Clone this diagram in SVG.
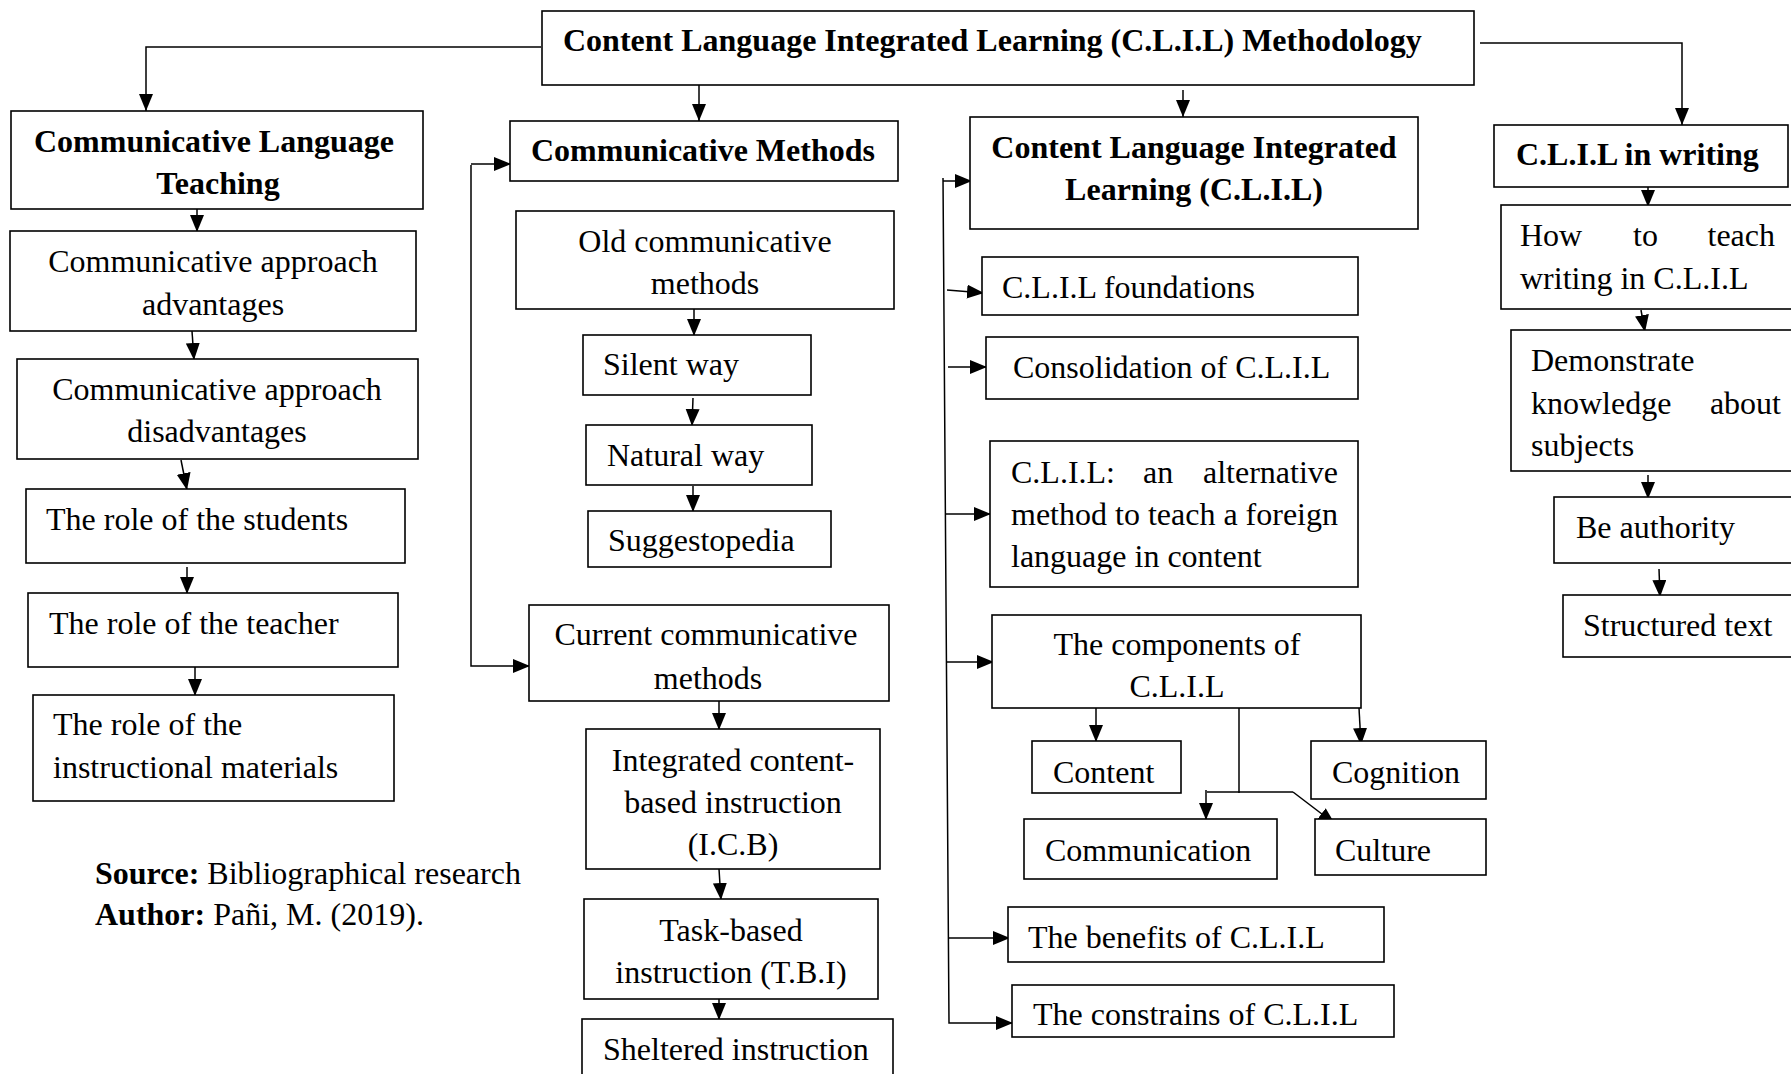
<svg xmlns="http://www.w3.org/2000/svg" width="1791" height="1074" viewBox="0 0 1791 1074">
<style>
.box{fill:#fff;stroke:#000;stroke-width:1.6}
.t{font-family:"Liberation Serif","Times New Roman",serif;font-size:32px;fill:#000}
.b{font-weight:bold}
.c{text-anchor:middle}
.e{text-anchor:end}
.ln{fill:none;stroke:#000;stroke-width:1.5}
.ar{marker-end:url(#ah)}
</style>
<defs>
<marker id="ah" markerUnits="userSpaceOnUse" markerWidth="18" markerHeight="15" refX="17" refY="7" orient="auto">
<path d="M0,0 L17,7 L0,14 z" fill="#000"/>
</marker>
</defs>
<rect width="1791" height="1074" fill="#fff"/>

<g id="connectors">
<polyline class="ln ar" points="541,47 146,47 146,111"/>
<line class="ln ar" x1="699" y1="85" x2="699" y2="121"/>
<line class="ln ar" x1="1183" y1="90" x2="1183" y2="117"/>
<polyline class="ln ar" points="1480,43 1682,43 1682,125"/>
<!-- column 1 -->
<line class="ln ar" x1="197" y1="209" x2="197" y2="232"/>
<line class="ln ar" x1="192" y1="331" x2="194" y2="360"/>
<line class="ln ar" x1="181" y1="460" x2="187" y2="490"/>
<line class="ln ar" x1="187" y1="567" x2="187" y2="594"/>
<line class="ln ar" x1="195" y1="667" x2="195" y2="696"/>
<!-- column 2 -->
<line class="ln ar" x1="471" y1="164" x2="511" y2="164"/>
<polyline class="ln ar" points="471,165 471,666 530,666"/>
<line class="ln ar" x1="694" y1="309" x2="694" y2="336"/>
<line class="ln ar" x1="693" y1="398" x2="692" y2="426"/>
<line class="ln ar" x1="693" y1="486" x2="693" y2="512"/>
<line class="ln ar" x1="719" y1="701" x2="719" y2="730"/>
<line class="ln ar" x1="719" y1="869" x2="721" y2="900"/>
<line class="ln ar" x1="719" y1="999" x2="719" y2="1020"/>
<!-- column 3 -->
<polyline class="ln ar" points="943,178 949,1023 1013,1023"/>
<line class="ln ar" x1="943" y1="181" x2="972" y2="181"/>
<line class="ln ar" x1="947" y1="290" x2="984" y2="293"/>
<line class="ln ar" x1="948" y1="367" x2="987" y2="367"/>
<line class="ln ar" x1="946" y1="514" x2="991" y2="514"/>
<line class="ln ar" x1="947" y1="662" x2="994" y2="662"/>
<line class="ln ar" x1="948" y1="938" x2="1010" y2="938"/>
<line class="ln ar" x1="1096" y1="708" x2="1096" y2="742"/>
<line class="ln ar" x1="1359" y1="708" x2="1361" y2="745"/>
<polyline class="ln" points="1239,708 1239,793"/>
<polyline class="ln" points="1207,792 1293,792"/>
<line class="ln ar" x1="1206" y1="790" x2="1206" y2="820"/>
<line class="ln ar" x1="1293" y1="792" x2="1335" y2="824"/>
<!-- column 4 -->
<line class="ln ar" x1="1648" y1="187" x2="1648" y2="207"/>
<line class="ln ar" x1="1641" y1="310" x2="1645" y2="332"/>
<line class="ln ar" x1="1648" y1="475" x2="1648" y2="499"/>
<line class="ln ar" x1="1659" y1="569" x2="1660" y2="597"/>
</g>

<g id="n-root"><rect class="box" x="542" y="11" width="932" height="74"/>
<text class="t b" x="563" y="51">Content Language Integrated Learning (C.L.I.L) Methodology</text></g>

<g id="n-clt"><rect class="box" x="11" y="111" width="412" height="98"/>
<text class="t b c" x="214" y="152">Communicative Language</text>
<text class="t b c" x="218" y="194">Teaching</text></g>
<g id="n-adv"><rect class="box" x="10" y="231" width="406" height="100"/>
<text class="t c" x="213" y="272">Communicative approach</text>
<text class="t c" x="213" y="315">advantages</text></g>
<g id="n-disadv"><rect class="box" x="17" y="359" width="401" height="100"/>
<text class="t c" x="217" y="400">Communicative approach</text>
<text class="t c" x="217" y="442">disadvantages</text></g>
<g id="n-students"><rect class="box" x="26" y="489" width="379" height="74"/>
<text class="t" x="46" y="530">The role of the students</text></g>
<g id="n-teacher"><rect class="box" x="28" y="593" width="370" height="74"/>
<text class="t" x="49" y="634">The role of the teacher</text></g>
<g id="n-materials"><rect class="box" x="33" y="695" width="361" height="106"/>
<text class="t" x="53" y="735">The role of the</text>
<text class="t" x="53" y="778">instructional materials</text></g>

<g id="source">
<text class="t" x="95" y="884"><tspan class="b">Source:</tspan> Bibliographical research</text>
<text class="t" x="95" y="925"><tspan class="b">Author:</tspan> Pañi, M. (2019).</text>
</g>

<g id="n-cm"><rect class="box" x="510" y="121" width="388" height="60"/>
<text class="t b" x="531" y="161">Communicative Methods</text></g>
<g id="n-old"><rect class="box" x="516" y="211" width="378" height="98"/>
<text class="t c" x="705" y="252">Old communicative</text>
<text class="t c" x="705" y="294">methods</text></g>
<g id="n-silent"><rect class="box" x="583" y="335" width="228" height="60"/>
<text class="t" x="603" y="375">Silent way</text></g>
<g id="n-natural"><rect class="box" x="586" y="425" width="226" height="60"/>
<text class="t" x="607" y="466">Natural way</text></g>
<g id="n-sugg"><rect class="box" x="588" y="511" width="243" height="56"/>
<text class="t" x="608" y="551">Suggestopedia</text></g>
<g id="n-current"><rect class="box" x="529" y="605" width="360" height="96"/>
<text class="t c" x="706" y="645">Current communicative</text>
<text class="t c" x="708" y="689">methods</text></g>
<g id="n-icb"><rect class="box" x="586" y="729" width="294" height="140"/>
<text class="t c" x="733" y="771">Integrated content-</text>
<text class="t c" x="733" y="813">based instruction</text>
<text class="t c" x="733" y="855">(I.C.B)</text></g>
<g id="n-tbi"><rect class="box" x="584" y="899" width="294" height="100"/>
<text class="t c" x="731" y="941">Task-based</text>
<text class="t c" x="731" y="983">instruction (T.B.I)</text></g>
<g id="n-sheltered"><rect class="box" x="582" y="1019" width="311" height="70"/>
<text class="t" x="603" y="1060">Sheltered instruction</text></g>

<g id="n-clil"><rect class="box" x="970" y="117" width="448" height="112"/>
<text class="t b c" x="1194" y="158">Content Language Integrated</text>
<text class="t b c" x="1194" y="200">Learning (C.L.I.L)</text></g>
<g id="n-found"><rect class="box" x="982" y="257" width="376" height="58"/>
<text class="t" x="1002" y="298">C.L.I.L foundations</text></g>
<g id="n-consol"><rect class="box" x="986" y="337" width="372" height="62"/>
<text class="t" x="1013" y="378">Consolidation of C.L.I.L</text></g>
<g id="n-alt"><rect class="box" x="990" y="441" width="368" height="146"/>
<text class="t" x="1011" y="483">C.L.I.L:</text>
<text class="t" x="1143" y="483">an</text>
<text class="t e" x="1338" y="483">alternative</text>
<text class="t" x="1011" y="525">method to teach a foreign</text>
<text class="t" x="1011" y="567">language in content</text></g>
<g id="n-comp"><rect class="box" x="992" y="615" width="369" height="93"/>
<text class="t c" x="1177" y="655">The components of</text>
<text class="t c" x="1177" y="697">C.L.I.L</text></g>
<g id="n-content"><rect class="box" x="1032" y="741" width="149" height="52"/>
<text class="t" x="1053" y="783">Content</text></g>
<g id="n-cognition"><rect class="box" x="1311" y="741" width="175" height="58"/>
<text class="t" x="1332" y="783">Cognition</text></g>
<g id="n-communication"><rect class="box" x="1024" y="819" width="253" height="60"/>
<text class="t" x="1045" y="861">Communication</text></g>
<g id="n-culture"><rect class="box" x="1315" y="819" width="171" height="56"/>
<text class="t" x="1335" y="861">Culture</text></g>
<g id="n-benefits"><rect class="box" x="1008" y="907" width="376" height="55"/>
<text class="t" x="1028" y="948">The benefits of C.L.I.L</text></g>
<g id="n-constrains"><rect class="box" x="1012" y="985" width="382" height="52"/>
<text class="t" x="1033" y="1025">The constrains of C.L.I.L</text></g>

<g id="n-writing"><rect class="box" x="1494" y="125" width="294" height="62"/>
<text class="t b" x="1516" y="165">C.L.I.L in writing</text></g>
<g id="n-howto"><rect class="box" x="1501" y="205" width="310" height="104"/>
<text class="t" x="1520" y="246">How</text>
<text class="t" x="1633" y="246">to</text>
<text class="t e" x="1775" y="246">teach</text>
<text class="t" x="1520" y="289">writing in C.L.I.L</text></g>
<g id="n-demo"><rect class="box" x="1511" y="330" width="300" height="141"/>
<text class="t" x="1531" y="371">Demonstrate</text>
<text class="t" x="1531" y="414">knowledge</text>
<text class="t e" x="1781" y="414">about</text>
<text class="t" x="1531" y="456">subjects</text></g>
<g id="n-auth"><rect class="box" x="1554" y="497" width="260" height="66"/>
<text class="t" x="1576" y="538">Be authority</text></g>
<g id="n-struct"><rect class="box" x="1563" y="595" width="260" height="62"/>
<text class="t" x="1583" y="636">Structured text</text></g>
</svg>
